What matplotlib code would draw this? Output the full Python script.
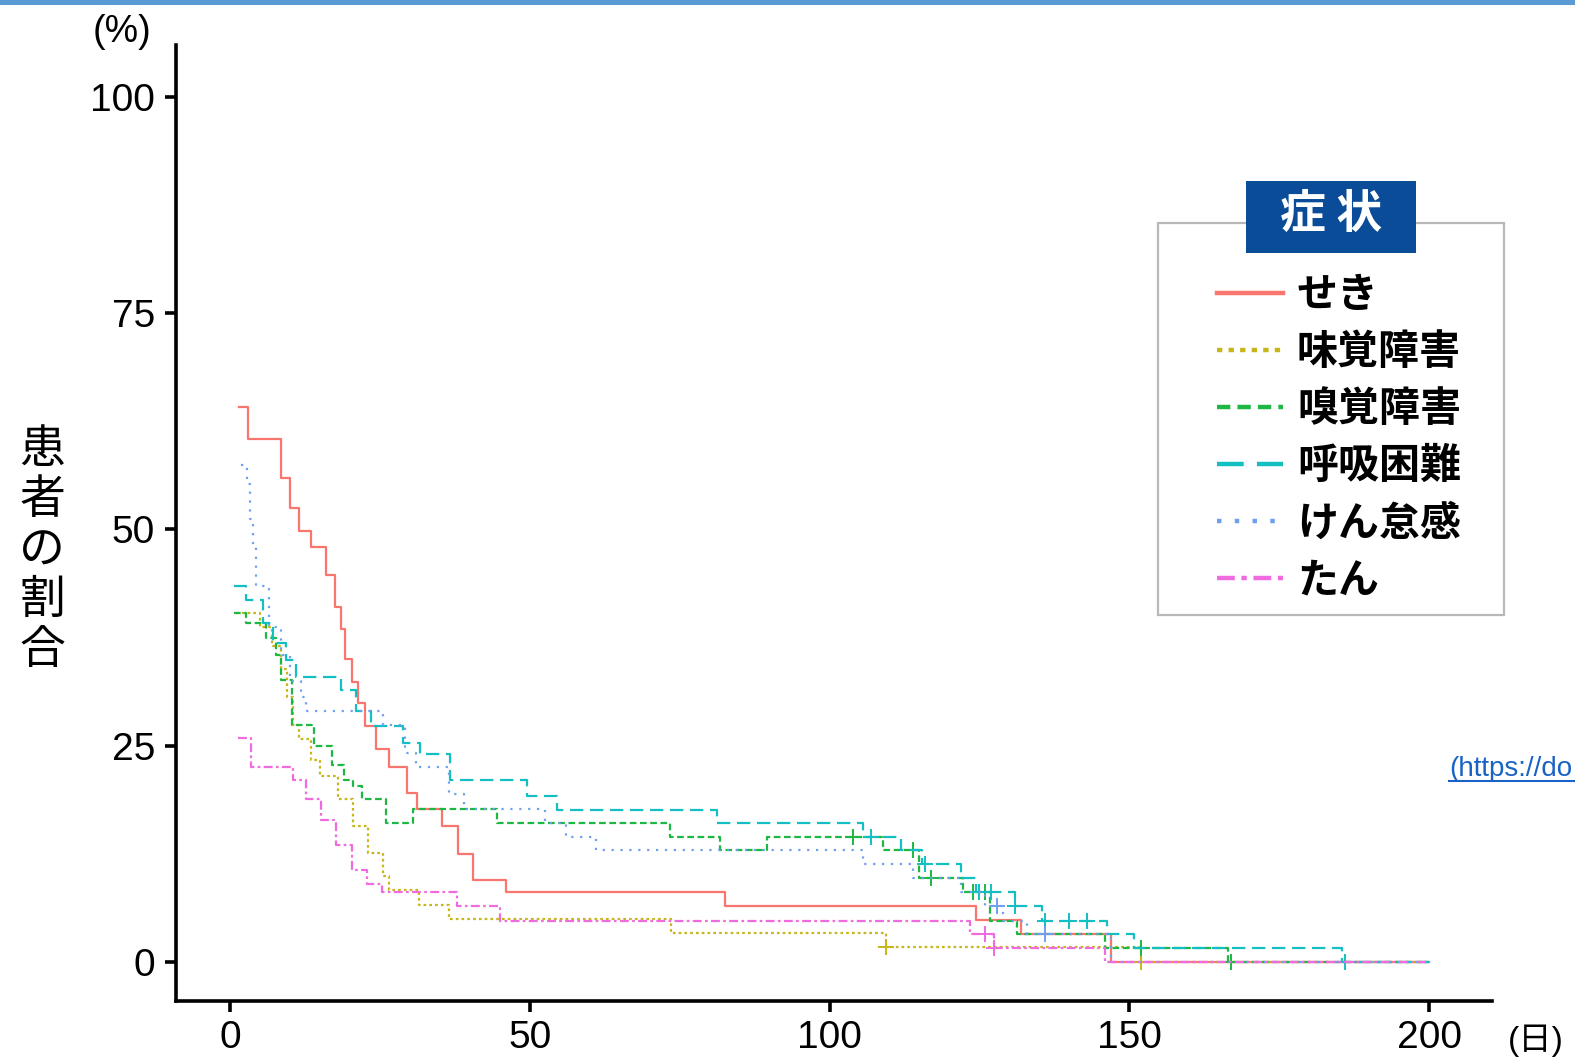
import numpy as np
import matplotlib.pyplot as plt
from matplotlib.patches import Rectangle
from matplotlib.lines import Line2D

plt.rcParams['font.family'] = ['Liberation Sans', 'Noto Sans CJK JP', 'DejaVu Sans']

# Kaplan-Meier style curves: day, % of patients still with the symptom
seki_t = [1.5, 3, 8.5, 10, 11.5, 13.5, 16, 17.5, 18.5, 19.2, 20.3, 21.3, 22.5, 24.3, 26.5, 29.5, 31.2, 35.3, 38, 40.5, 46, 82.5, 124.5, 132, 147, 200]
seki_s = [64.2, 60.5, 56.0, 52.5, 49.8, 48.0, 44.7, 41.0, 38.5, 35.0, 32.4, 30.0, 27.3, 24.6, 22.6, 19.5, 17.7, 15.7, 12.5, 9.5, 8.1, 6.5, 4.9, 3.3, 0, 0]

mikaku_t = [1, 5, 7, 8.5, 9.5, 10.5, 11.5, 13.5, 15, 18, 20.5, 23, 25.5, 26.5, 31.5, 36.5, 73.5, 109.5, 152, 200]
mikaku_s = [40.3, 38.7, 36.5, 33.9, 30.6, 27.4, 25.8, 23.4, 21.5, 18.8, 15.7, 12.6, 9.9, 8.3, 6.6, 5.0, 3.4, 1.7, 0, 0]

kyukaku_t = [0.7, 2.7, 6, 7.7, 8.5, 10.3, 14, 17, 19, 20.5, 22, 26, 30.5, 44.5, 73.4, 81.7, 89.6, 109, 115, 122.3, 126.8, 131.3, 146, 166.5, 200]
kyukaku_s = [40.3, 39.2, 37.4, 35.5, 32.6, 27.4, 25.0, 22.8, 21.0, 20.3, 18.9, 16.1, 17.7, 16.1, 14.5, 12.9, 14.5, 12.9, 9.7, 8.1, 4.8, 3.2, 1.6, 0, 0]

kokyu_t = [0.7, 2.7, 5.5, 7.2, 9.4, 11, 18.5, 21, 23.6, 28.9, 31.7, 36.7, 49.5, 54.6, 81.2, 105.6, 112, 115.5, 122, 124.5, 131, 135.5, 146.3, 150.8, 185.5, 200]
kokyu_s = [43.5, 41.9, 39.2, 36.9, 34.9, 33.0, 31.5, 29.0, 27.3, 25.3, 24.1, 21.0, 19.2, 17.6, 16.1, 14.5, 12.9, 11.3, 9.7, 8.1, 6.5, 4.8, 3.2, 1.6, 0, 0]

kentai_t = [1.8, 2.8, 3.3, 3.8, 4.3, 6.5, 8.5, 10, 11.8, 12.7, 25.5, 29.2, 31, 36.5, 39, 52.5, 56, 61, 105.6, 114, 122, 126, 129, 133, 147, 200]
kentai_s = [57.4, 55.3, 51.2, 48.0, 43.5, 38.7, 35.5, 32.5, 30.6, 29.0, 27.4, 24.2, 22.6, 19.4, 17.7, 16.1, 14.5, 12.9, 11.3, 9.7, 8.1, 6.5, 4.8, 3.2, 0, 0]

tan_t = [1.3, 3.5, 10.5, 12.7, 15.2, 17.7, 20.3, 22.8, 25.3, 37.9, 45, 123.5, 127.5, 146, 200]
tan_s = [25.9, 22.6, 21.0, 18.8, 16.4, 13.5, 10.6, 9.0, 8.1, 6.5, 4.8, 3.2, 1.6, 0, 0]

# censored observations (days)
seki_c = []
mikaku_c = [109.5, 152]
kyukaku_c = [104, 114, 117, 124, 126, 152, 167]
kokyu_c = [107, 116, 125, 127, 131, 136, 140, 143, 186]
kentai_c = [128, 136]
tan_c = [126, 127.5]

labels = ['せき', '味覚障害', '嗅覚障害', '呼吸困難', 'けん怠感', 'たん']
colors = ['#F8766D', '#C8B51A', '#1DB844', '#13BFC2', '#6FA0F0', '#F06AE0']
styles = ['-', (0, (1.2, 1.4)), (0, (3, 1.6)), (0, (6, 3)), (0, (1, 3)), (0, (4, 1.5, 1.2, 1.5))]

series = [(seki_t, seki_s, seki_c), (mikaku_t, mikaku_s, mikaku_c),
          (kyukaku_t, kyukaku_s, kyukaku_c), (kokyu_t, kokyu_s, kokyu_c),
          (kentai_t, kentai_s, kentai_c), (tan_t, tan_s, tan_c)]

W, H = 1575, 1064
fig = plt.figure(figsize=(W / 100, H / 100), dpi=100)
fig.patch.set_facecolor('white')

ax = fig.add_axes([176 / W, 1 - 1001 / H, (1492 - 176) / W, (1001 - 45) / H])

for (t, s, c), col, ls in zip(series, colors, styles):
    ax.step(t, s, where='post', color=col, lw=1.6, linestyle=ls)
    if c:
        idx = np.searchsorted(t, c, side='right') - 1
        ax.plot(c, np.array(s)[idx], linestyle='none', marker='+',
                ms=11, mew=1.4, color=col)

ax.set_xlim(-9, 210.5)
ax.set_ylim(-4.5, 106)
ax.set_xticks([0, 50, 100, 150, 200])
ax.set_yticks([0, 25, 50, 75, 100])
for side in ['top', 'right']:
    ax.spines[side].set_visible(False)
for side in ['left', 'bottom']:
    ax.spines[side].set_linewidth(2.6)
ax.tick_params(axis='both', length=8, width=2.6, labelsize=28, colors='black')
ax.tick_params(axis='x', pad=6)
ax.tick_params(axis='y', pad=7)

# axis captions
fig.text(122 / W, 1 - 32 / H, '(%)', fontsize=27, ha='center', va='center')
fig.text(1536 / W, 1 - 1041 / H, '(日)', fontsize=24, ha='center', va='center')
for i, ch in enumerate('患者の割合'):
    fig.text(42 / W, 1 - (450 + i * 50) / H, ch, fontsize=33, ha='center', va='center',
             family='Noto Sans CJK JP')

# legend frame + title tab
fig.add_artist(Rectangle((1158 / W, 1 - 615 / H), (1504 - 1158) / W, (615 - 223) / H,
                         transform=fig.transFigure, facecolor='white', edgecolor='#B8B8B8',
                         lw=1.6, zorder=3))
fig.add_artist(Rectangle((1246 / W, 1 - 253 / H), (1416 - 1246) / W, (253 - 181) / H,
                         transform=fig.transFigure, facecolor='#0B4C98', edgecolor='none',
                         zorder=4))
fig.text(1331 / W, 1 - 215 / H, '症 状', fontsize=33, color='white', weight='bold',
         ha='center', va='center', family='Noto Sans CJK JP', zorder=5)

handles = [Line2D([0], [0], color=col, lw=3.2, linestyle=ls) for col, ls in zip(colors, styles)]
leg = fig.legend(handles, labels, loc='upper left', bbox_to_anchor=(1197 / W, 1 - 254 / H),
                 frameon=False, borderpad=0, handlelength=1.6, handletextpad=0.34,
                 labelspacing=0.365, prop={'family': 'Noto Sans CJK JP', 'size': 29.5, 'weight': 'bold'})
leg.set_zorder(6)

# link fragment at right edge
fig.text(1449 / W, 1 - 776 / H, '(https://do', fontsize=20, color='#1a63c6',
         ha='left', va='baseline')
fig.add_artist(Line2D([1449 / W, 1.0], [1 - 781 / H, 1 - 781 / H], transform=fig.transFigure,
                      color='#1a63c6', lw=1.5))

# top banner strip
fig.add_artist(Rectangle((0, 1 - 5 / H), 1, 5 / H, transform=fig.transFigure,
                         facecolor='#5B9BD5', edgecolor='none'))

fig.savefig('out.png', dpi=100, facecolor='white')
plt.close(fig)
